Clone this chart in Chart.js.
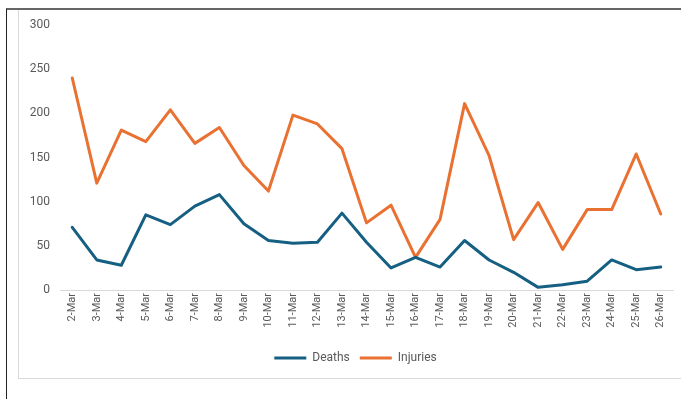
<!DOCTYPE html>
<html>
<head>
<meta charset="utf-8">
<title>Deaths and Injuries</title>
<script src="https://cdn.jsdelivr.net/npm/chart.js@4.4.1/dist/chart.umd.min.js"></script>
<style>
  html, body { margin: 0; padding: 0; background: #fff; }
  body { width: 681px; height: 399px; position: relative; overflow: hidden; }
  .sheet {
    position: absolute; left: 6px; top: 8px; right: 0; bottom: 0;
    border-top: 2px solid #666; border-left: 1px solid #222;
  }
  .frame {
    position: absolute; left: 18px; top: 10px; width: 700px; height: 368px;
    border-left: 1px solid #d9d9d9; border-bottom: 1px solid #d9d9d9;
  }
  #wrap { position: absolute; left: 0; top: 0; width: 681px; height: 399px; }
</style>
</head>
<body>
<div class="sheet"></div>
<div class="frame"></div>
<div id="wrap"><canvas id="chart"></canvas></div>
<script>
// daily casualties, 2 to 26 March
const days = [
  "2-Mar", "3-Mar", "4-Mar", "5-Mar", "6-Mar", "7-Mar", "8-Mar", "9-Mar",
  "10-Mar", "11-Mar", "12-Mar", "13-Mar", "14-Mar", "15-Mar", "16-Mar",
  "17-Mar", "18-Mar", "19-Mar", "20-Mar", "21-Mar", "22-Mar", "23-Mar",
  "24-Mar", "25-Mar", "26-Mar",
];

let deaths = [71, 34, 28, 85, 74, 95, 108, 75, 56, 53, 54, 87, 54, 25, 37,
  26, 56, 34, 20, 3, 6, 10, 34, 23, 26];
let injuries = [240, 121, 181, 168, 204, 166, 184, 141, 112, 198, 188, 160,
  76, 96, 37, 80, 211, 152, 57, 99, 46, 91, 91, 154, 86];

let yTicks = [0, 50, 100, 150, 200, 250, 300];

const textColor = "#595959";
Chart.defaults.font.family = "Roboto, 'Liberation Sans', sans-serif";
Chart.defaults.color = textColor;

// the legend sits under the plot area, not the whole canvas
const legendShift = {
  id: "legendShift",
  afterLayout(chart) {
    const lg = chart.legend;
    if (lg) {
      lg.left += 19;
      lg.right += 19;
    }
  },
};

const ctx = document.getElementById("chart");
const myChart = new Chart(ctx, {
  type: "line",
  data: {
    labels: days,
    datasets: [
      {
        label: "Deaths",
        data: deaths,
        borderColor: "#156082",
        backgroundColor: "#156082",
        borderWidth: 3,
        pointRadius: 0,
        tension: 0,
        borderJoinStyle: "round",
        borderCapStyle: "round",
      },
      {
        label: "Injuries",
        data: injuries,
        borderColor: "#e97132",
        backgroundColor: "#e97132",
        borderWidth: 3,
        pointRadius: 0,
        tension: 0,
        borderJoinStyle: "round",
        borderCapStyle: "round",
      },
    ],
  },
  plugins: [legendShift],
  options: {
    responsive: true,
    maintainAspectRatio: false,
    animation: false,
    layout: {
      padding: { top: 25, right: 8, bottom: 25, left: 0 },
    },
    plugins: {
      tooltip: { enabled: false },
      legend: {
        position: "bottom",
        labels: {
          usePointStyle: true,
          pointStyle: "line",
          pointStyleWidth: 32,
          boxWidth: 32,
          boxHeight: 12,
          padding: 10,
          color: textColor,
          font: { size: 12 },
        },
      },
    },
    scales: {
      x: {
        offset: true,
        grid: { display: false, drawTicks: false },
        border: { display: true, color: "#d9d9d9", width: 1 },
        ticks: {
          autoSkip: false,
          minRotation: 90,
          maxRotation: 90,
          padding: 3,
          font: { size: 11 },
          color: textColor,
        },
        afterFit: (scale) => { scale.height = 52; },
      },
      y: {
        min: 0,
        max: 300,
        grid: { display: false, drawTicks: false },
        border: { display: false },
        afterBuildTicks: (scale) => {
          scale.ticks = yTicks.map((v) => ({ value: v }));
        },
        ticks: {
          padding: 10,
          font: { size: 12 },
          color: textColor,
        },
        afterFit: (scale) => { scale.width = 60; },
      },
    },
  },
});
</script>
</body>
</html>
